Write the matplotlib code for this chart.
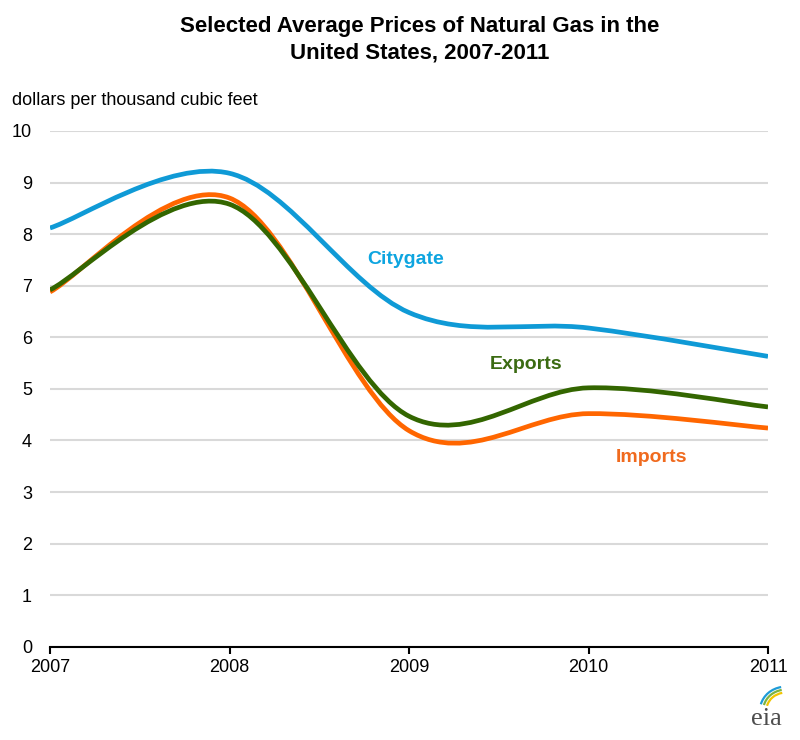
import numpy as np
import matplotlib.pyplot as plt
from matplotlib.path import Path
from matplotlib.patches import PathPatch, Arc

plt.rcParams['font.family'] = ['Liberation Sans', 'DejaVu Sans']

years = [2007, 2008, 2009, 2010, 2011]
citygate = [8.12, 9.18, 6.48, 6.18, 5.63]
imports = [6.88, 8.70, 4.19, 4.52, 4.24]
exports = [6.92, 8.58, 4.47, 5.02, 4.65]


def smooth_path(x, y):
    # Excel style smoothed line: cubic bezier through each point
    x = np.asarray(x, float)
    y = np.asarray(y, float)
    px = np.concatenate([[x[0]], x, [x[-1]]])
    py = np.concatenate([[y[0]], y, [y[-1]]])
    verts = [(x[0], y[0])]
    codes = [Path.MOVETO]
    for i in range(1, len(x)):
        c1 = (px[i] + (px[i + 1] - px[i - 1]) / 6, py[i] + (py[i + 1] - py[i - 1]) / 6)
        c2 = (px[i + 1] - (px[i + 2] - px[i]) / 6, py[i + 1] - (py[i + 2] - py[i]) / 6)
        verts += [c1, c2, (x[i], y[i])]
        codes += [Path.CURVE4] * 3
    return Path(verts, codes)


fig = plt.figure(figsize=(8, 7.4), dpi=100)
ax = fig.add_axes([0.0625, 0.126, 0.8975, 0.697])

series = [(citygate, '#0f9ad6'), (exports, '#336600'), (imports, '#ff6600')]
for vals, col in [series[0], series[2], series[1]]:
    ax.add_patch(PathPatch(smooth_path(years, vals), fill=False, edgecolor=col,
                           lw=3.4, capstyle='butt', zorder=3))

ax.set_xlim(2007, 2011)
ax.set_ylim(0, 10)
ax.set_xticks(years)
ax.set_yticks(range(0, 11))
ax.yaxis.grid(True, color='#d9d9d9', lw=1.5)
ax.set_axisbelow(True)
for s in ['top', 'right', 'left']:
    ax.spines[s].set_visible(False)
ax.spines['bottom'].set_linewidth(1.5)
ax.tick_params(axis='y', length=0, labelsize=13, pad=13)
ax.tick_params(axis='x', length=5, width=1.5, direction='out', labelsize=13, pad=4)

ax.text(2008.98, 7.5, 'Citygate', color='#0ea5e0', fontsize=14, fontweight='bold',
        ha='center', va='center')
ax.text(2009.65, 5.47, 'Exports', color='#3b6b12', fontsize=14, fontweight='bold',
        ha='center', va='center')
ax.text(2010.35, 3.66, 'Imports', color='#f06a1e', fontsize=14, fontweight='bold',
        ha='center', va='center')

fig.text(0.525, 0.978, 'Selected Average Prices of Natural Gas in the\nUnited States, 2007-2011',
         ha='center', va='top', fontsize=16, fontweight='bold', linespacing=1.3)
fig.text(0.015, 0.864, 'dollars per thousand cubic feet', fontsize=13, ha='left', va='center')

# eia logo
fig.text(0.958, 0.013, 'eia', family='Liberation Serif', fontsize=19, color='#4d4d4d',
         ha='center', va='bottom')
for r, col in [(0.030, '#f2c500'), (0.035, '#7cb342'), (0.040, '#1e9bd7')]:
    fig.add_artist(Arc((0.982, 0.040), r * 1.6, r * 1.6, theta1=100, theta2=165,
                       transform=fig.transFigure, color=col, lw=1.6))

fig.savefig('out.png', dpi=100)
